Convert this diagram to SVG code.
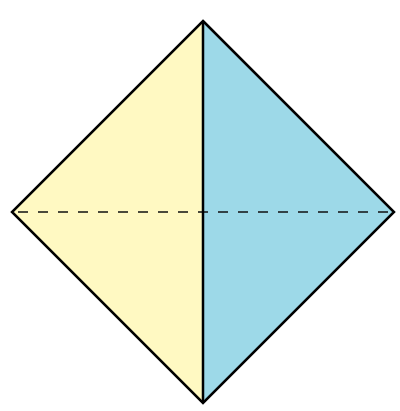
<svg xmlns="http://www.w3.org/2000/svg" width="400" height="411" viewBox="0 0 400 411">
<style>
.edge{stroke:#000;stroke-width:2.5;fill:none;stroke-linejoin:miter}
.fold{stroke:#111;stroke-width:1.3;stroke-dasharray:10,10;fill:none}
</style>
<rect width="400" height="411" fill="#fff"/>
<g id="left">
<polygon points="203,21 12,212 203,403" fill="#FFF9C2"/>
</g>
<g id="right">
<polygon points="203,21 394,212 203,403" fill="#9DD9E8"/>
</g>
<g id="connectors">
<line class="fold" x1="18" y1="212" x2="392" y2="212"/>
<line class="edge" x1="203" y1="21" x2="203" y2="403"/>
<polygon class="edge" points="203,21 394,212 203,403 12,212"/>
</g>
</svg>
